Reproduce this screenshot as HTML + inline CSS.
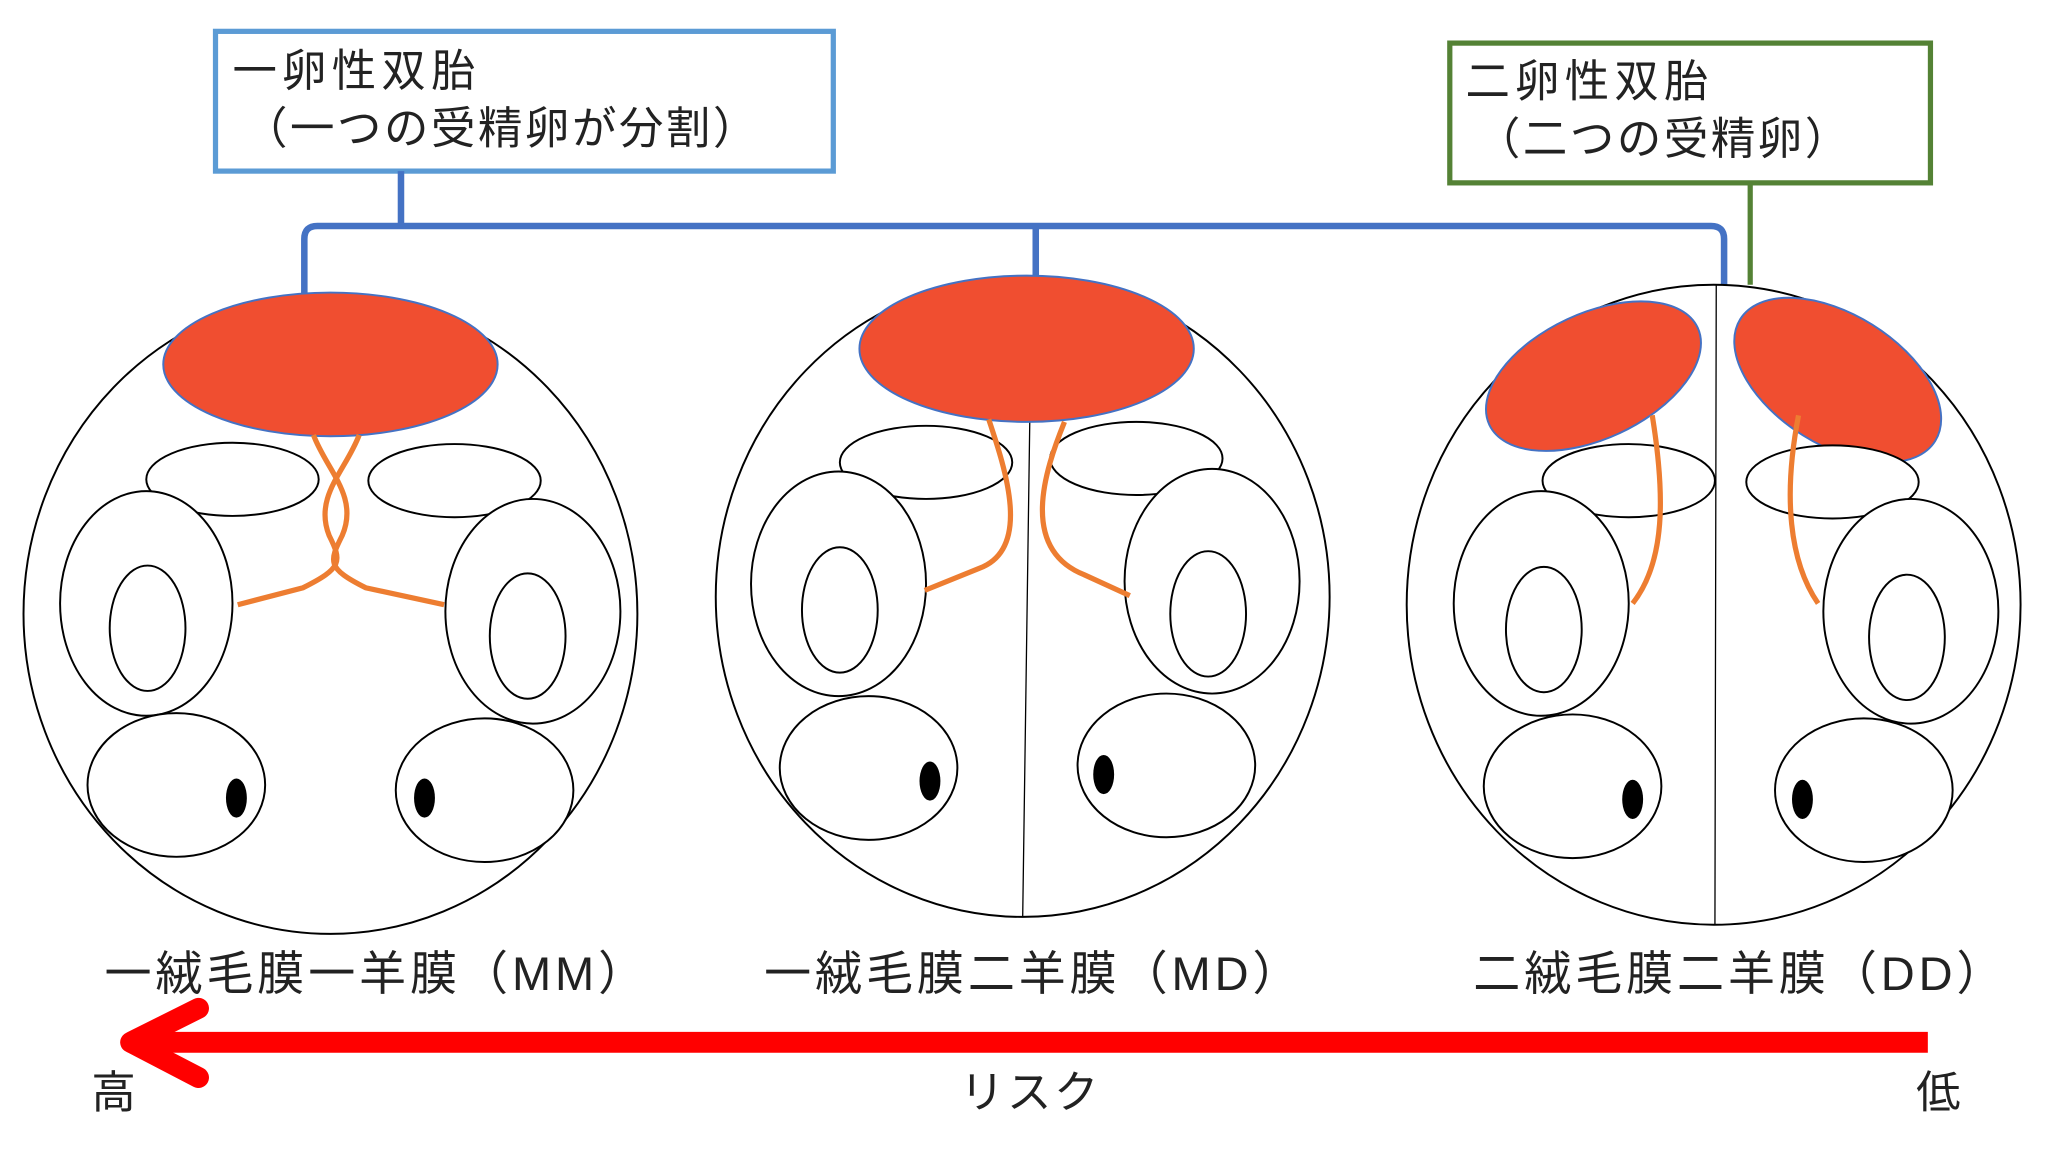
<!DOCTYPE html>
<html><head><meta charset="utf-8"><style>
html,body{margin:0;padding:0;background:#fff;}
svg{display:block;}
text{font-family:"Liberation Sans","Noto Sans CJK JP",sans-serif;fill:#222;}
</style></head><body>
<svg width="2048" height="1152" viewBox="0 0 1568 882" preserveAspectRatio="none" xmlns="http://www.w3.org/2000/svg">
<rect width="1568" height="882" fill="#fff"/>
<rect x="165" y="24" width="473" height="107" fill="#fff" stroke="#5b9bd5" stroke-width="4"/>
<text x="178" y="66" font-size="34" letter-spacing="4">一卵性双胎</text>
<text x="186" y="110" font-size="34" letter-spacing="2">（一つの受精卵が分割）</text>
<rect x="1110" y="33" width="368" height="107" fill="#fff" stroke="#548235" stroke-width="4"/>
<text x="1122" y="74" font-size="34" letter-spacing="4">二卵性双胎</text>
<text x="1130" y="118" font-size="34" letter-spacing="2">（二つの受精卵）</text>
<g fill="none" stroke="#4472c4" stroke-width="5">
<path d="M307 131 V173"/>
<path d="M233 225 V183 Q233 173 243 173 H1310 Q1320 173 1320 183 V218"/>
<path d="M793 173 V211"/>
</g>
<path d="M1340 140 V218" stroke="#548235" stroke-width="4"/>
<g fill="#fff" stroke="#000" stroke-width="1.5">
<ellipse cx="253" cy="470" rx="235" ry="245"/>
<ellipse cx="783" cy="457" rx="235" ry="245"/>
<ellipse cx="1312" cy="463" rx="235" ry="245"/>
</g>
<path d="M790 212 L783 702 M1314 218 L1313 708" stroke="#000" stroke-width="1"/>
<g fill="#f04e30" stroke="#4472c4" stroke-width="1.5">
<ellipse cx="253" cy="279" rx="128" ry="55"/>
<ellipse cx="786" cy="267" rx="128" ry="56"/>
<ellipse cx="1220" cy="288" rx="88" ry="48" transform="rotate(-25 1220 288)"/>
<ellipse cx="1407" cy="291" rx="88" ry="50" transform="rotate(32 1407 291)"/>
</g>
<g fill="#fff" stroke="#000" stroke-width="1.5">
<ellipse cx="178" cy="367" rx="66" ry="28"/><ellipse cx="112" cy="462" rx="66" ry="86"/><ellipse cx="113" cy="481" rx="29" ry="48"/><ellipse cx="135" cy="601" rx="68" ry="55"/>
<ellipse cx="348" cy="368" rx="66" ry="28"/><ellipse cx="408" cy="468" rx="67" ry="86"/><ellipse cx="404" cy="487" rx="29" ry="48"/><ellipse cx="371" cy="605" rx="68" ry="55"/>
<ellipse cx="709" cy="354" rx="66" ry="28"/><ellipse cx="642" cy="447" rx="67" ry="86"/><ellipse cx="643" cy="467" rx="29" ry="48"/><ellipse cx="665" cy="588" rx="68" ry="55"/>
<ellipse cx="870" cy="351" rx="66" ry="28"/><ellipse cx="928" cy="445" rx="67" ry="86"/><ellipse cx="925" cy="470" rx="29" ry="48"/><ellipse cx="893" cy="586" rx="68" ry="55"/>
<ellipse cx="1247" cy="368" rx="66" ry="28"/><ellipse cx="1180" cy="462" rx="67" ry="86"/><ellipse cx="1182" cy="482" rx="29" ry="48"/><ellipse cx="1204" cy="602" rx="68" ry="55"/>
<ellipse cx="1403" cy="369" rx="66" ry="28"/><ellipse cx="1463" cy="468" rx="67" ry="86"/><ellipse cx="1460" cy="488" rx="29" ry="48"/><ellipse cx="1427" cy="605" rx="68" ry="55"/>
</g>
<g fill="#000">
<ellipse cx="181" cy="611" rx="8" ry="15"/><ellipse cx="325" cy="611" rx="8" ry="15"/>
<ellipse cx="712" cy="598" rx="8" ry="15"/><ellipse cx="845" cy="593" rx="8" ry="15"/>
<ellipse cx="1250" cy="612" rx="8" ry="15"/><ellipse cx="1380" cy="612" rx="8" ry="15"/>
</g>
<g fill="none" stroke="#ed7d31" stroke-width="4">
<path d="M240 333 C250 360 275 380 262 410 C252 430 250 435 280 450 L340 463"/>
<path d="M275 333 C265 360 240 380 252 410 C262 430 262 435 232 450 L182 463"/>
<path d="M757 321 C770 360 790 420 750 435 L708 452"/>
<path d="M815 323 C800 360 780 420 830 440 L865 456"/>
<path d="M1265 318 C1275 380 1275 430 1250 462"/>
<path d="M1377 318 C1365 380 1370 430 1392 462"/>
</g>
<text x="80" y="758" font-size="36" letter-spacing="3">一絨毛膜一羊膜（MM）</text>
<text x="585" y="758" font-size="36" letter-spacing="3">一絨毛膜二羊膜（MD）</text>
<text x="1128" y="758" font-size="36" letter-spacing="3">二絨毛膜二羊膜（DD）</text>
<path d="M1476 798 H110" stroke="#ff0000" stroke-width="16"/>
<path d="M152 772 L100 798 L152 825" fill="none" stroke="#ff0000" stroke-width="16" stroke-linecap="round" stroke-linejoin="round"/>
<text x="70" y="848" font-size="34">高</text>
<text x="735" y="848" font-size="34" letter-spacing="2">リスク</text>
<text x="1467" y="848" font-size="34">低</text>
</svg>
</body></html>
